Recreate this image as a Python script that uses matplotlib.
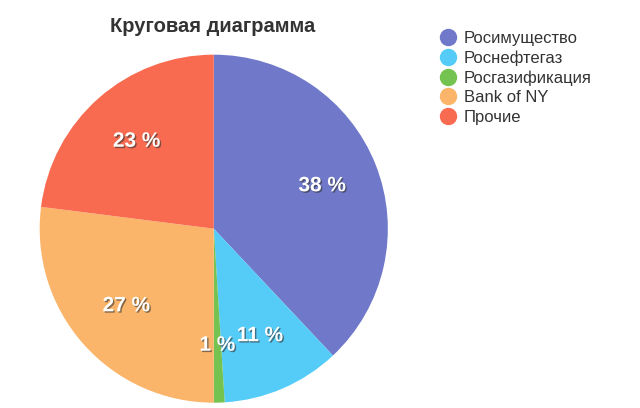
import matplotlib
matplotlib.use("Agg")
import matplotlib.pyplot as plt
import matplotlib.patheffects as pe
from matplotlib.lines import Line2D

plt.rcParams['font.family'] = ['Liberation Sans', 'DejaVu Sans']

labels = ["Росимущество", "Роснефтегаз", "Росгазификация", "Bank of NY", "Прочие"]
shares = [38, 11, 1, 27, 23]
colors = ["#7079c9", "#55ccf8", "#74c24f", "#fbb56a", "#f86b50"]

fig = plt.figure(figsize=(6.4, 4.08), dpi=100)
ax = fig.add_axes([0.062, 0.013, 0.544, 0.853])

wedges, texts, autotexts = ax.pie(
    shares, colors=colors, startangle=90, counterclock=False,
    autopct=lambda p: "%d %%" % round(p), pctdistance=0.67,
    wedgeprops=dict(linewidth=0), radius=1.0)
for t in autotexts:
    t.set_color("white")
    t.set_fontsize(15)
    t.set_fontweight("bold")
    t.set_path_effects([pe.withSimplePatchShadow(offset=(1, -1), shadow_rgbFace="#333333", alpha=0.6)])
ax.set_xlim(-1, 1)
ax.set_ylim(-1, 1)
ax.set_aspect("auto")

fig.text(0.333, 0.935, "Круговая диаграмма", ha="center", va="center",
         fontsize=14.5, color="#333333", fontweight="bold")

handles = [Line2D([], [], marker="o", linestyle="", markersize=11.5,
                  markerfacecolor=c, markeredgecolor=c) for c in colors]
fig.legend(handles, labels, loc="upper left", bbox_to_anchor=(0.662, 0.962),
           frameon=False, fontsize=12, labelspacing=0.27, handletextpad=0.4,
           handlelength=1.1, labelcolor="#333333")

fig.savefig("out.png", dpi=100)
